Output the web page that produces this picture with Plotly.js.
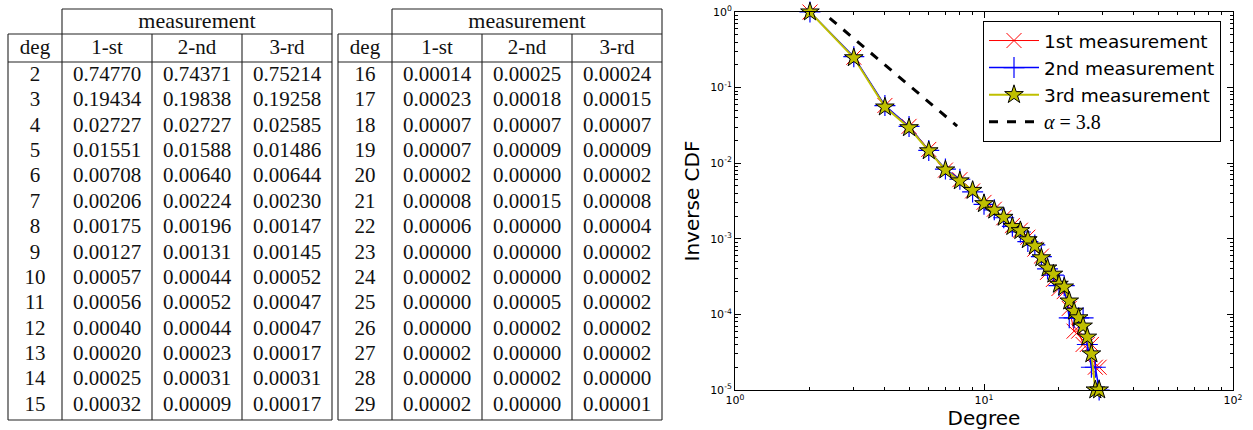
<!DOCTYPE html>
<html><head><meta charset="utf-8">
<script src="https://cdn.plot.ly/plotly-3.0.1.min.js"></script>
<style>html,body{margin:0;padding:0;background:#fff}#chart{width:1253px;height:430px}</style>
</head><body><div id="chart"></div>
<script>
// ---------- table data ----------
const tableDegrees = [2,3,4,5,6,7,8,9,10,11,12,13,14,15,16,17,18,19,20,21,22,23,24,25,26,27,28,29];
const meas1 = [0.74770,0.19434,0.02727,0.01551,0.00708,0.00206,0.00175,0.00127,0.00057,0.00056,0.00040,0.00020,0.00025,0.00032,
               0.00014,0.00023,0.00007,0.00007,0.00002,0.00008,0.00006,0.00000,0.00002,0.00000,0.00000,0.00002,0.00000,0.00002];
const meas2 = [0.74371,0.19838,0.02727,0.01588,0.00640,0.00224,0.00196,0.00131,0.00044,0.00052,0.00044,0.00023,0.00031,0.00009,
               0.00025,0.00018,0.00007,0.00009,0.00000,0.00015,0.00000,0.00000,0.00000,0.00005,0.00002,0.00000,0.00002,0.00000];
const meas3 = [0.75214,0.19258,0.02585,0.01486,0.00644,0.00230,0.00147,0.00145,0.00052,0.00047,0.00047,0.00017,0.00031,0.00017,
               0.00024,0.00015,0.00007,0.00009,0.00002,0.00008,0.00004,0.00002,0.00002,0.00002,0.00002,0.00002,0.00000,0.00001];
const headerGroup = 'measurement';
const headerCols = ['deg','1-st','2-nd','3-rd'];

// ---------- plot data (inverse CDF) ----------
const plotDegrees = [2,3,4,5,6,7,8,9,10,11,12,13,14,15,16,17,18,19,20,21,22,23,24,25,26,27,28,29];
const ccdf1 = [1.0,0.2523,0.058,0.0307,0.0152,0.00811,0.00605,0.0043,0.00303,0.00246,0.0019,0.0015,0.0013,0.00105,
               0.00073,0.00059,0.00036,0.00029,0.00022,0.0002,0.00012,0.00006,0.00006,0.00004,0.00004,0.00004,0.00002,0.00002];
const ccdf2 = [1.0,0.2563,0.05792,0.03065,0.01477,0.00837,0.00613,0.00417,0.00286,0.00242,0.0019,0.00146,0.00123,0.00092,
               0.00083,0.00058,0.0004,0.00033,0.00024,0.00024,0.00009,0.00009,0.00009,0.00009,0.00004,0.00002,0.00002,0.00001];
const ccdf3 = [1.0,0.24786,0.05528,0.02943,0.01457,0.00813,0.00583,0.00436,0.00291,0.00239,0.00192,0.00145,0.00128,0.00097,
               0.0008,0.00056,0.00041,0.00034,0.00025,0.00023,0.00015,0.00011,0.00009,0.00007,0.00005,0.00003,0.00001,0.00001];
const fitX = [2.4, 7.8];
const fitY = [0.83, 0.031];
const seriesNames = ['1st measurement','2nd measurement','3rd measurement'];

// ---------- table geometry (pixel canvas axis) ----------
const W = 1253, H = 430;
const tableLefts = [8, 338];
const colWidths = [54, 90, 90, 90];
const yTop = 9, yMeas = 34, yHead = 62, yBottom = 420;
const rowY0 = 75.7, rowStep = 25.37, rowsPerTable = 14;

const shapes = [];
const txt = {x: [], y: [], text: []};
const hdr = {x: [], y: [], text: []};
function addLine(x0,y0,x1,y1){
  shapes.push({type:'line', xref:'x2', yref:'y2', x0, y0, x1, y1, line:{color:'#222', width:1.1}});
}
tableLefts.forEach((L, t) => {
  const e = [L]; colWidths.forEach(w => e.push(e[e.length-1] + w));
  addLine(e[1], yTop, e[4], yTop);
  addLine(e[0], yMeas, e[4], yMeas);
  addLine(e[0], yHead, e[4], yHead);
  addLine(e[0], yBottom, e[4], yBottom);
  addLine(e[0], yMeas, e[0], yBottom);
  addLine(e[1], yTop, e[1], yBottom);
  addLine(e[2], yMeas, e[2], yBottom);
  addLine(e[3], yMeas, e[3], yBottom);
  addLine(e[4], yTop, e[4], yBottom);
  const centers = [0,1,2,3].map(i => (e[i] + e[i+1]) / 2);
  hdr.x.push((e[1] + e[4]) / 2); hdr.y.push((yTop + yMeas) / 2 + 0.5); hdr.text.push(headerGroup);
  headerCols.forEach((h, i) => { txt.x.push(centers[i]); txt.y.push((yMeas + yHead) / 2 + 0.5); txt.text.push(h); });
  for (let r = 0; r < rowsPerTable; r++) {
    const k = t * rowsPerTable + r;
    const yy = rowY0 + r * rowStep;
    const vals = [String(tableDegrees[k]), meas1[k].toFixed(5), meas2[k].toFixed(5), meas3[k].toFixed(5)];
    vals.forEach((v, i) => { txt.x.push(centers[i]); txt.y.push(yy); txt.text.push(v); });
  }
});

const tableTrace = {
  type:'scatter', mode:'text', x: txt.x, y: txt.y, text: txt.text,
  xaxis:'x2', yaxis:'y2', textposition:'middle center',
  textfont:{family:'Liberation Serif, serif', size:21, color:'#111'},
  hoverinfo:'skip', showlegend:false
};
const headerTrace = {
  type:'scatter', mode:'text', x: hdr.x, y: hdr.y, text: hdr.text,
  xaxis:'x2', yaxis:'y2', textposition:'middle center',
  textfont:{family:'Liberation Serif, serif', size:22, color:'#111'},
  hoverinfo:'skip', showlegend:false
};

const traces = [
  tableTrace, headerTrace,
  {type:'scatter', mode:'lines+markers', x: plotDegrees, y: ccdf1, name: seriesNames[0],
   line:{color:'#ff0000', width:1}, cliponaxis:false,
   marker:{symbol:'x-thin-open', size:15, color:'#ff0000', line:{color:'#ff0000', width:1}}},
  {type:'scatter', mode:'lines+markers', x: plotDegrees, y: ccdf2, name: seriesNames[1],
   line:{color:'#0000ff', width:1.5}, cliponaxis:false,
   marker:{symbol:'cross-thin-open', size:15, color:'#0000ff', line:{color:'#0000ff', width:1.2}}},
  {type:'scatter', mode:'lines+markers', x: plotDegrees, y: ccdf3, name: seriesNames[2],
   line:{color:'#bfbf00', width:2}, cliponaxis:false,
   marker:{symbol:'star', size:14, color:'#bfbf00', line:{color:'#000', width:1}}},
  {type:'scatter', mode:'lines', x: fitX, y: fitY,
   name:'<span style="font-family:Liberation Serif;font-size:20px"><i>α</i> = 3.8</span>',
   line:{color:'#000', width:3, dash:'dash'}}
];

const pow = (p) => '10<sup>' + (p < 0 ? '-' + (-p) : p) + '</sup>';
const xMinor = [], yMinor = [];
[1,10].forEach(d => { for (let m = 2; m <= 9; m++) xMinor.push(m*d); });
[1e-5,1e-4,1e-3,1e-2,1e-1].forEach(d => { for (let m = 2; m <= 9; m++) yMinor.push(m*d); });
const tickFont = {family:'DejaVu Sans', size:11, color:'#000'};
const titleFont = {family:'DejaVu Sans', size:20, color:'#000'};

const layout = {
  width: W, height: H,
  margin:{l:0, r:0, t:0, b:0},
  paper_bgcolor:'#fff', plot_bgcolor:'rgba(0,0,0,0)',
  showlegend:true,
  xaxis:{type:'log', range:[0,2], domain:[735/W, 1233/W], anchor:'y',
    tickvals:[1,10,100], ticktext:[pow(0),pow(1),pow(2)],
    ticks:'inside', ticklen:6, tickwidth:1, tickcolor:'#000',
    showline:true, linecolor:'#000', linewidth:1, mirror:'ticks',
    showgrid:false, zeroline:false, tickfont:tickFont,
    minor:{tickvals:xMinor, ticks:'inside', ticklen:3, tickwidth:1, tickcolor:'#000', showgrid:false},
    title:{text:'Degree', font:titleFont, standoff:6}},
  yaxis:{type:'log', range:[-5,0], domain:[1-390/H, 1-12/H], anchor:'x',
    tickvals:[1e-5,1e-4,1e-3,1e-2,1e-1,1], ticktext:[pow(-5),pow(-4),pow(-3),pow(-2),pow(-1),pow(0)],
    ticks:'inside', ticklen:6, tickwidth:1, tickcolor:'#000',
    showline:true, linecolor:'#000', linewidth:1, mirror:'ticks',
    showgrid:false, zeroline:false, tickfont:tickFont,
    minor:{tickvals:yMinor, ticks:'inside', ticklen:3, tickwidth:1, tickcolor:'#000', showgrid:false},
    title:{text:'Inverse CDF', font:titleFont, standoff:5}},
  xaxis2:{range:[0,W], domain:[0,1], anchor:'y2', visible:false, fixedrange:true},
  yaxis2:{range:[H,0], domain:[0,1], anchor:'x2', visible:false, fixedrange:true},
  shapes: shapes,
  legend:{x:983/W, y:1-21/H, xanchor:'left', yanchor:'top',
    bgcolor:'#fff', bordercolor:'#000', borderwidth:1,
    font:{family:'DejaVu Sans', size:18.5, color:'#000'}, itemwidth:50, tracegroupgap:0}
};

Plotly.newPlot('chart', traces, layout, {staticPlot:true, displayModeBar:false});
</script>
</body></html>
